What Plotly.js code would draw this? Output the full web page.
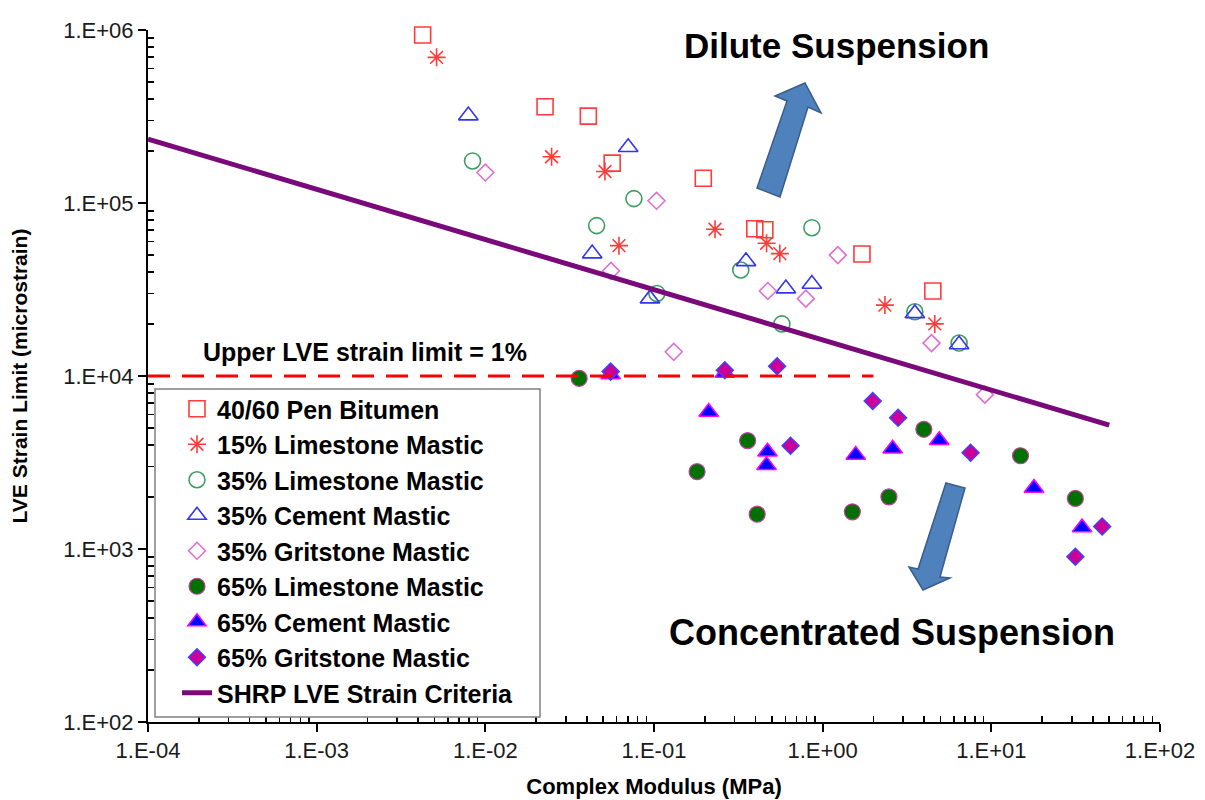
<!DOCTYPE html>
<html>
<head>
<meta charset="utf-8">
<script src="https://cdn.plot.ly/plotly-3.0.1.min.js"></script>
<style>
  html, body { margin: 0; padding: 0; background: #ffffff; }
  #chart { width: 1205px; height: 800px; }
</style>
</head>
<body>
<div id="chart"></div>
<script>
// ---- Data ----
const penBitumenX = [0.00425, 0.0226, 0.0408, 0.0565, 0.196, 0.396, 0.454, 1.71, 4.5];
const penBitumenY = [9.36e5, 3.6e5, 3.18e5, 1.7e5, 1.39e5, 7.1e4, 7.0e4, 5.07e4, 3.1e4];

const ls15X = [0.00514, 0.0247, 0.0512, 0.062, 0.23, 0.465, 0.557, 2.34, 4.62];
const ls15Y = [6.95e5, 1.85e5, 1.52e5, 5.67e4, 7.05e4, 5.85e4, 5.1e4, 2.57e4, 2.0e4];

const ls35X = [0.0084, 0.0457, 0.076, 0.104, 0.327, 0.573, 0.863, 3.52, 6.44];
const ls35Y = [1.75e5, 7.4e4, 1.06e5, 3.0e4, 4.1e4, 2.0e4, 7.2e4, 2.35e4, 1.55e4];

const cem35X = [0.00793, 0.043, 0.0703, 0.0946, 0.351, 0.605, 0.863, 3.52, 6.44];
const cem35Y = [3.2e5, 5.1e4, 2.1e5, 2.8e4, 4.6e4, 3.2e4, 3.4e4, 2.3e4, 1.52e4];

const grit35X = [0.01, 0.0556, 0.1035, 0.131, 0.473, 0.795, 1.23, 4.42, 9.15];
const grit35Y = [1.5e5, 4.05e4, 1.03e5, 1.38e4, 3.1e4, 2.8e4, 5.0e4, 1.55e4, 7.8e3];

const ls65X = [0.036, 0.18, 0.359, 0.409, 1.50, 2.47, 3.98, 14.9, 31.5];
const ls65Y = [9.7e3, 2.8e3, 4.23e3, 1.59e3, 1.64e3, 2.0e3, 4.92e3, 3.46e3, 1.96e3];

const cem65X = [0.0553, 0.211, 0.263, 0.471, 0.465, 1.57, 2.6, 4.91, 17.9, 34.5];
const cem65Y = [1.02e4, 6.2e3, 1.04e4, 3.65e3, 3.05e3, 3.5e3, 3.8e3, 4.25e3, 2.25e3, 1.33e3];

const grit65X = [0.0553, 0.263, 0.537, 0.645, 1.98, 2.8, 7.53, 45.4, 31.5];
const grit65Y = [1.06e4, 1.08e4, 1.14e4, 3.95e3, 7.16e3, 5.74e3, 3.6e3, 1.35e3, 902];

const shrpX = [1e-4, 50];
const shrpY = [2.34e5, 5.2e3];

const limitX = [1e-4, 2.0];
const limitY = [1e4, 1e4];

const seriesNames = [
  '40/60 Pen Bitumen', '15% Limestone Mastic', '35% Limestone Mastic',
  '35% Cement Mastic', '35% Gritstone Mastic', '65% Limestone Mastic',
  '65% Cement Mastic', '65% Gritstone Mastic', 'SHRP LVE Strain Criteria'
];

const xTickVals = [1e-4, 1e-3, 1e-2, 1e-1, 1e0, 1e1, 1e2];
const xTickText = ['1.E-04', '1.E-03', '1.E-02', '1.E-01', '1.E+00', '1.E+01', '1.E+02'];
const yTickVals = [1e2, 1e3, 1e4, 1e5, 1e6];
const yTickText = ['1.E+02', '1.E+03', '1.E+04', '1.E+05', '1.E+06'];

// minor tick positions (2..9 within each decade)
function minorTicks(lo, hi) {
  const out = [];
  for (let e = lo; e < hi; e++) {
    for (let m = 2; m <= 9; m++) out.push(m * Math.pow(10, e));
  }
  return out;
}

const FONT = 'Arial, "Liberation Sans", sans-serif';

function pts(i, x, y, marker) {
  return {
    type: 'scatter', mode: 'markers', name: seriesNames[i], x: x, y: y,
    marker: marker, legendgroup: 'g' + i, cliponaxis: false
  };
}

const traces = [
  pts(0, penBitumenX, penBitumenY, {symbol: 'square-open', size: 16, color: '#FF3B3B', line: {width: 1.6}}),
  pts(1, ls15X, ls15Y, {symbol: 'asterisk-open', size: 15, color: '#FF3B3B', line: {width: 1.6, color: '#FF3B3B'}}),
  pts(2, ls35X, ls35Y, {symbol: 'circle-open', size: 16, color: '#3E9E62', line: {width: 1.6}}),
  pts(3, cem35X, cem35Y, {symbol: 'triangle-up-open', size: 17, color: '#3535EE', line: {width: 1.6}}),
  pts(4, grit35X, grit35Y, {symbol: 'diamond-open', size: 13, color: '#E070D0', line: {width: 1.6}}),
  pts(5, ls65X, ls65Y, {symbol: 'circle', size: 16, color: '#007000', line: {width: 1.2, color: '#C040A0'}}),
  pts(6, cem65X, cem65Y, {symbol: 'triangle-up', size: 17, color: '#0000FF', line: {width: 1.5, color: '#FF00FF'}}),
  pts(7, grit65X, grit65Y, {symbol: 'diamond', size: 13, color: '#CC0099', line: {width: 1.5, color: '#4040FF'}}),
  {
    type: 'scatter', mode: 'lines', name: seriesNames[8], x: shrpX, y: shrpY,
    line: {color: '#7A0A7A', width: 5}, legendgroup: 'g8'
  },
  {
    type: 'scatter', mode: 'lines', name: 'Upper LVE strain limit', x: limitX, y: limitY,
    line: {color: '#FF0000', width: 3, dash: '22px,12px'}, showlegend: false
  }
];

// paper coordinates helper: plot area is 148..1160 px wide, 30..722 px high
function PX(px) { return (px - 148) / 1012; }
function PY(py) { return (722 - py) / 692; }
function pathFrom(points) {
  return points.map((p, i) => (i === 0 ? 'M' : 'L') + PX(p[0]).toFixed(4) + ',' + PY(p[1]).toFixed(4)).join(' ') + ' Z';
}

const upArrow = pathFrom([[757, 188], [787, 101], [775, 96], [805, 83], [821, 113], [808, 107], [780, 197]]);
const downArrow = pathFrom([[946, 483], [965, 488], [940, 577], [950, 578], [923, 590], [909, 567], [918, 569]]);

const axisCommon = {
  type: 'log', showgrid: false, zeroline: false, showline: true,
  linecolor: '#000000', linewidth: 2, ticks: 'outside', ticklen: 8, tickwidth: 2,
  tickcolor: '#000000', tickmode: 'array', automargin: false,
  tickfont: {family: FONT, size: 22, color: '#1a1a1a'}
};

const layout = {
  width: 1205, height: 800,
  margin: {l: 148, r: 45, t: 30, b: 78},
  paper_bgcolor: '#ffffff', plot_bgcolor: '#ffffff',
  font: {family: FONT, color: '#000000'},
  showlegend: true,
  xaxis: Object.assign({}, axisCommon, {
    range: [-4, 2], tickvals: xTickVals, ticktext: xTickText,
    minor: {tickvals: minorTicks(-4, 2), ticks: 'inside', ticklen: 6, tickwidth: 1.5, tickcolor: '#000000', showgrid: false},
    title: {text: 'Complex Modulus (MPa)', font: {family: FONT, size: 22, weight: 'bold', color: '#000000'}, standoff: 16}
  }),
  yaxis: Object.assign({}, axisCommon, {
    range: [2, 6], tickvals: yTickVals, ticktext: yTickText,
    minor: {tickvals: minorTicks(2, 6), ticks: 'inside', ticklen: 6, tickwidth: 1.5, tickcolor: '#000000', showgrid: false},
    title: {text: 'LVE Strain Limit (microstrain)', font: {family: FONT, size: 21, weight: 'bold', color: '#000000'}, standoff: 30}
  }),
  legend: {
    x: PX(177), y: PY(386), xanchor: 'left', yanchor: 'top',
    bgcolor: 'rgba(0,0,0,0)', borderwidth: 0,
    font: {family: FONT, size: 25, weight: 'bold', color: '#000000'},
    traceorder: 'grouped', tracegroupgap: 0, itemsizing: 'trace'
  },
  shapes: [
    {type: 'rect', xref: 'paper', yref: 'paper', x0: PX(155), x1: PX(540), y0: PY(717), y1: PY(389),
     fillcolor: '#ffffff', line: {color: '#808080', width: 1.5}, layer: 'above'},
    {type: 'path', xref: 'paper', yref: 'paper', path: upArrow, fillcolor: '#4F81BD', line: {color: '#385D8A', width: 1.5}},
    {type: 'path', xref: 'paper', yref: 'paper', path: downArrow, fillcolor: '#4F81BD', line: {color: '#385D8A', width: 1.5}}
  ],
  annotations: [
    {text: 'Dilute Suspension', xref: 'paper', yref: 'paper', x: PX(836), y: PY(45), showarrow: false,
     xanchor: 'center', yanchor: 'middle', font: {family: FONT, size: 35, weight: 'bold', color: '#000000'}},
    {text: 'Concentrated Suspension', xref: 'paper', yref: 'paper', x: PX(892), y: PY(632), showarrow: false,
     xanchor: 'center', yanchor: 'middle', font: {family: FONT, size: 36, weight: 'bold', color: '#000000'}},
    {text: 'Upper LVE strain limit = 1%', xref: 'paper', yref: 'paper', x: PX(365), y: PY(352), showarrow: false,
     xanchor: 'center', yanchor: 'middle', font: {family: FONT, size: 25, weight: 'bold', color: '#000000'}}
  ]
};

Plotly.newPlot('chart', traces, layout, {staticPlot: true, displayModeBar: false});
</script>
</body>
</html>
